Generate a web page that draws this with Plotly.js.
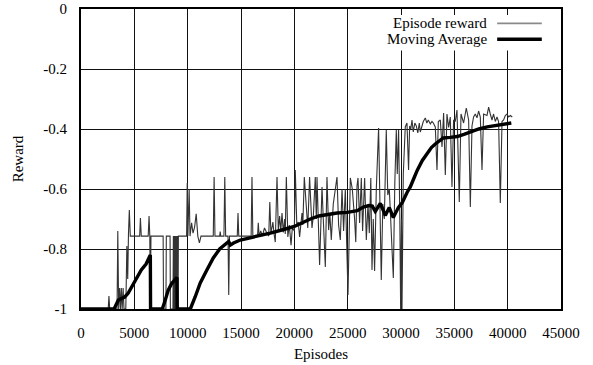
<!DOCTYPE html>
<html>
<head>
<meta charset="utf-8">
<script src="https://cdn.plot.ly/plotly-3.0.1.min.js"></script>
<style>html,body{margin:0;padding:0;background:#fff;}#chart{width:593px;height:365px;}</style>
</head>
<body>
<div id="chart"></div>
<script>
// ---- data ----
const rewardEpisodes = [
 0,2550,2620,2690,3380,3450,3530,3620,3700,3780,
 3860,3950,4030,4200,4300,4380,4450,4530,4620,5500,
 5570,5650,6300,6380,6450,6500,6560,7700,7740,7960,
 8000,8350,8380,8620,8660,8700,8740,8780,8820,8860,
 8900,8940,8980,9020,9060,9100,9130,9900,9960,10020,
 10080,10140,10220,10370,10500,10650,10800,10950,11100,11250,
 12400,12480,12560,13000,13050,13100,13400,13480,13560,13780,
 13850,13920,14650,14720,14790,15950,16030,16110,16550,16620,
 16700,16850,17000,17200,17400,17600,17700,17800,17900,17990,
 18100,18215,18375,18500,18620,18730,18845,18965,19090,19150,
 19250,19390,19530,19690,19810,20000,20090,20230,20370,20495,
 20720,20795,20935,21120,21260,21430,21655,21780,21965,22060,
 22125,22370,22595,22715,22905,23060,23215,23325,23465,23650,
 24000,24150,24310,24470,24620,24780,24920,25030,25250,25435,
 25650,25760,25875,25970,26120,26280,26400,26590,26750,26905,
 27030,27170,27280,27400,27525,27685,27900,28010,28150,28295,
 28435,28620,28760,28905,29025,29155,29280,29420,29560,29650,
 29775,29890,29965,30045,30095,30215,30400,30560,30710,30810,
 30920,31030,31150,31295,31435,31575,31715,31810,31970,32090,
 32280,32420,32560,32750,32905,33030,33215,33375,33500,33685,
 33845,33995,34155,34310,34465,34620,34780,34930,35090,35250,
 35465,35625,35870,36120,36340,36500,36655,36805,36965,37125,
 37275,37435,37595,37745,38060,38215,38370,38530,38680,38840,
 39000,39150,39310,39470,39620,39780,39940,40090,40250,40430
];
const rewardValues = [
 -1,-1,-0.957,-1,-1,-0.74,-1,-0.93,-1,-0.93,
 -1,-0.93,-1,-1,-0.79,-0.9,-0.75,-0.67,-0.757,-0.757,
 -0.697,-0.757,-0.757,-0.69,-0.757,-1,-0.757,-0.757,-1,-1,
 -0.757,-0.757,-1,-1,-0.757,-1,-0.757,-1,-0.757,-1,
 -0.757,-1,-0.757,-1,-0.757,-1,-0.757,-0.757,-0.58,-0.757,
 -0.67,-0.6,-0.757,-0.713,-0.747,-0.727,-0.683,-0.757,-0.78,-0.757,
 -0.757,-0.56,-0.757,-0.757,-0.742,-0.757,-0.757,-0.56,-0.757,-0.757,
 -0.953,-0.757,-0.757,-0.68,-0.757,-0.757,-0.56,-0.757,-0.757,-0.713,
 -0.757,-0.74,-0.757,-0.73,-0.745,-0.757,-0.643,-0.745,-0.73,-0.71,
 -0.75,-0.777,-0.56,-0.74,-0.69,-0.74,-0.68,-0.745,-0.7,-0.75,
 -0.56,-0.76,-0.72,-0.787,-0.73,-0.74,-0.537,-0.72,-0.71,-0.76,
 -0.68,-0.72,-0.56,-0.65,-0.73,-0.56,-0.73,-0.69,-0.56,-0.7,
 -0.56,-0.853,-0.593,-0.7,-0.86,-0.56,-0.737,-0.68,-0.77,-0.65,
 -0.56,-0.72,-0.77,-0.6,-0.74,-0.6,-0.777,-0.953,-0.563,-0.6,
 -0.7,-0.777,-0.59,-0.563,-0.713,-0.563,-0.74,-0.563,-0.77,-0.65,
 -0.747,-0.563,-0.87,-0.7,-0.873,-0.6,-0.397,-0.66,-0.903,-0.65,
 -0.7,-0.403,-0.62,-0.6,-0.7,-0.793,-0.897,-0.58,-0.403,-0.55,
 -0.403,-0.7,-1,-0.7,-1,-0.55,-0.393,-0.38,-0.537,-0.39,
 -0.4,-0.37,-0.41,-0.38,-0.39,-0.413,-0.38,-0.41,-0.39,-0.375,
 -0.363,-0.38,-0.37,-0.383,-0.375,-0.38,-0.393,-0.537,-0.375,-0.37,
 -0.46,-0.347,-0.553,-0.35,-0.395,-0.36,-0.593,-0.37,-0.375,-0.337,
 -0.643,-0.35,-0.38,-0.33,-0.37,-0.66,-0.39,-0.36,-0.35,-0.363,
 -0.34,-0.36,-0.537,-0.35,-0.355,-0.327,-0.35,-0.37,-0.35,-0.375,
 -0.36,-0.375,-0.647,-0.375,-0.37,-0.355,-0.35,-0.36,-0.355,-0.36
];
const averageEpisodes = [
 0,3100,3500,3780,4100,4430,5000,5650,6100,6450,
 6500,6520,7620,7900,8180,8500,8840,9000,9020,10250,
 10700,11180,11800,12400,13000,13600,13850,14000,14300,14934,
 16153,17000,17747,19000,20000,20900,21500,22300,23100,24000,
 24966,25900,26470,27000,27310,27590,28060,28530,28900,29280,
 29750,30120,30591,30872,31200,31528,32000,32466,32850,33216,
 33600,33966,34600,35278,35900,36497,37300,38091,38700,39309,
 39900,40341
];
const averageValues = [
 -1,-1,-0.97,-0.965,-0.96,-0.947,-0.91,-0.87,-0.85,-0.826,
 -0.82,-1,-1,-0.97,-0.937,-0.915,-0.903,-0.895,-1,-1,
 -0.96,-0.913,-0.87,-0.83,-0.8,-0.783,-0.775,-0.787,-0.78,-0.77,
 -0.76,-0.755,-0.747,-0.735,-0.725,-0.71,-0.70,-0.69,-0.684,-0.68,
 -0.678,-0.672,-0.66,-0.655,-0.657,-0.675,-0.648,-0.688,-0.662,-0.695,
 -0.662,-0.645,-0.61,-0.593,-0.565,-0.537,-0.505,-0.48,-0.462,-0.45,
 -0.44,-0.43,-0.428,-0.425,-0.418,-0.41,-0.4,-0.393,-0.39,-0.387,
 -0.383,-0.38
];
const xTickValues = [0,5000,10000,15000,20000,25000,30000,35000,40000,45000];
const yTickValues = [-1,-0.8,-0.6,-0.4,-0.2,0];
const yTickLabels = ['-1','-0.8','-0.6','-0.4','-0.2','0'];
const seriesNames = ['Episode reward','Moving Average'];
const axisTitles = {x:'Episodes', y:'Reward'};

// ---- styles ----
const rewardColor = '#333333';
const averageColor = '#000000';
const fontFamily = 'Times New Roman, Liberation Serif, DejaVu Serif, serif';

const traces = [
  {x: rewardEpisodes, y: rewardValues, type:'scatter', mode:'lines', name: seriesNames[0],
   line:{color: rewardColor, width:1.1}, hoverinfo:'skip'},
  {x: averageEpisodes, y: averageValues, type:'scatter', mode:'lines', name: seriesNames[1],
   line:{color: averageColor, width:3.4}, hoverinfo:'skip'}
];

// legend drawn gnuplot-style (text left of sample) with paper-referenced items
const legRowY = [0.952, 0.899];
const legTextX = 0.849;
const legLine = [0.867, 0.960];
const shapes = [
  {type:'rect', xref:'paper', yref:'paper', x0:0.62, x1:0.976, y0:0.862, y1:0.98,
   fillcolor:'#ffffff', line:{width:0}, layer:'above'},
  {type:'line', xref:'paper', yref:'paper', x0:legLine[0], x1:legLine[1], y0:legRowY[0], y1:legRowY[0],
   line:{color:'#8a8a8a', width:1.6}, layer:'above'},
  {type:'line', xref:'paper', yref:'paper', x0:legLine[0], x1:legLine[1], y0:legRowY[1], y1:legRowY[1],
   line:{color:averageColor, width:3.4}, layer:'above'}
];
const annotations = seriesNames.map((n,i)=>({
  text:n, xref:'paper', yref:'paper', x:legTextX, y:legRowY[i], xanchor:'right', yanchor:'middle',
  showarrow:false, font:{family:fontFamily, size:15, color:'#000'}
}));

const layout = {
  width:593, height:365,
  margin:{l:81, r:32, t:9, b:56},
  paper_bgcolor:'#ffffff', plot_bgcolor:'#ffffff',
  font:{family:fontFamily, size:15, color:'#000'},
  showlegend:false,
  xaxis:{
    range:[0,45000], tickvals:xTickValues, tickformat:'d',
    showgrid:true, gridcolor:'#111', gridwidth:1,
    showline:true, linecolor:'#000', linewidth:2, mirror:true,
    zeroline:false, ticks:'', ticklabelstandoff:9,
    tickfont:{family:fontFamily, size:15, color:'#000'},
    title:{text:axisTitles.x, standoff:8, font:{family:fontFamily, size:15, color:'#000'}}
  },
  yaxis:{
    range:[-1,0], tickvals:yTickValues, ticktext:yTickLabels,
    showgrid:true, gridcolor:'#111', gridwidth:1,
    showline:true, linecolor:'#000', linewidth:2, mirror:true,
    zeroline:false, ticks:'', ticklabelstandoff:9,
    tickfont:{family:fontFamily, size:15, color:'#000'},
    title:{text:axisTitles.y, standoff:16, font:{family:fontFamily, size:15, color:'#000'}}
  },
  shapes:shapes,
  annotations:annotations
};

Plotly.newPlot('chart', traces, layout, {staticPlot:true, displayModeBar:false});
</script>
</body>
</html>
